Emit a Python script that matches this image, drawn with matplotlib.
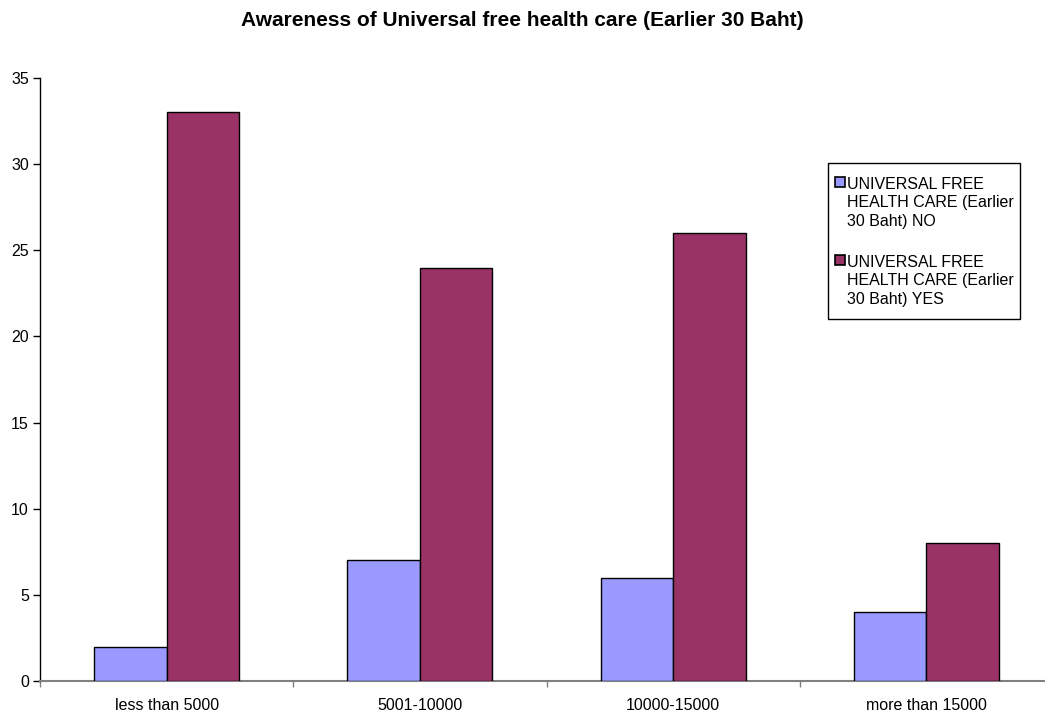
import matplotlib
matplotlib.use("Agg")
import matplotlib.pyplot as plt
from matplotlib.patches import Rectangle
import numpy as np

plt.rcParams['font.family'] = ['Liberation Sans', 'DejaVu Sans']

categories = ["less than 5000", "5001-10000", "10000-15000", "more than 15000"]
no_values = [2, 7, 6, 4]
yes_values = [33, 24, 26, 8]
series_labels = ["UNIVERSAL FREE\nHEALTH CARE (Earlier\n30 Baht) NO",
                 "UNIVERSAL FREE\nHEALTH CARE (Earlier\n30 Baht) YES"]
series_colors = ["#9999FF", "#993366"]
title = "Awareness of Universal free health care (Earlier 30 Baht)"

W, H = 1045, 716
fig = plt.figure(figsize=(W / 100, H / 100), dpi=100)
# plot area runs off the right edge slightly, as in the original layout
ax = fig.add_axes([40 / W, 35 / H, 1013 / W, 603 / H])

x = np.arange(len(categories))
w = 0.286
ax.bar(x - w / 2, no_values, w, color=series_colors[0], edgecolor="black", linewidth=1.0,
       zorder=3)
ax.bar(x + w / 2, yes_values, w, color=series_colors[1], edgecolor="black", linewidth=1.0,
       zorder=3)

ax.set_xlim(-0.5, len(categories) - 0.5)
ax.set_ylim(0, 35)
ax.set_yticks(range(0, 36, 5))
ax.set_xticks(x)
ax.set_xticklabels(categories, fontsize=11.5)
ax.tick_params(axis='x', length=0, pad=12)
ax.set_xticks(np.arange(-0.5, len(categories), 1.0), minor=True)
ax.tick_params(axis='x', which='minor', length=4, color="#808080", width=1)
ax.tick_params(axis='y', labelsize=11.5, length=5, width=1, direction='out', pad=3)

for s in ("top", "right"):
    ax.spines[s].set_visible(False)
ax.spines["bottom"].set_color("#808080")
ax.spines["bottom"].set_linewidth(1.5)
ax.spines["left"].set_color("black")
ax.spines["left"].set_linewidth(1.0)

fig.text(0.5, 1 - 20 / H, title, ha="center", va="center",
         fontsize=15, fontweight="bold")

# legend box drawn in figure pixel coordinates
def fx(px):
    return px / W

def fy(py):
    return 1 - py / H

fig.patches.append(Rectangle((fx(828), fy(319)), fx(1020) - fx(828), fy(163) - fy(319),
                             transform=fig.transFigure, facecolor="white",
                             edgecolor="black", linewidth=1.0, zorder=5))
for i, (lab, col) in enumerate(zip(series_labels, series_colors)):
    top = 177 + i * 78
    fig.patches.append(Rectangle((fx(835), fy(top + 10)), fx(845) - fx(835),
                                 fy(top) - fy(top + 10), transform=fig.transFigure,
                                 facecolor=col, edgecolor="black", linewidth=1.2, zorder=6))
    fig.text(fx(847), fy(203 + i * 78), lab, ha="left", va="center",
             fontsize=11.5, linespacing=1.32, zorder=6)

fig.savefig("out.png", dpi=100)
